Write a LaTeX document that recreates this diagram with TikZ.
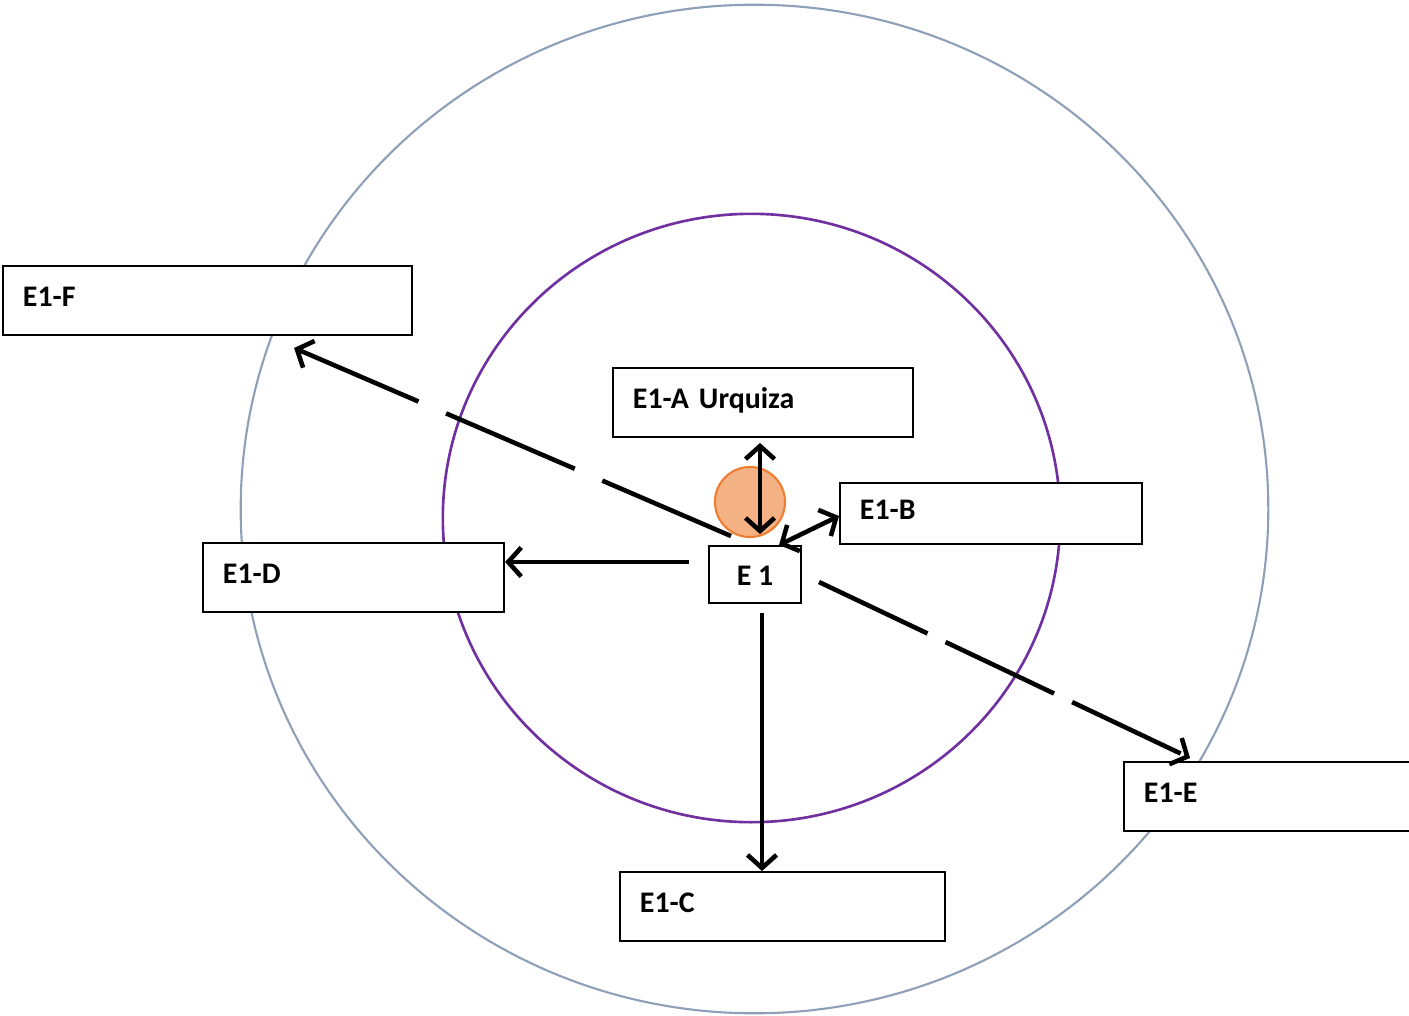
\documentclass[tikz,border=0pt]{standalone}
\usepackage{fontspec}
\setmainfont{Carlito}
\usepackage{tikz}
\usetikzlibrary{arrows.meta}

\definecolor{ringblue}{HTML}{8EA0B8}
\definecolor{ringpurple}{HTML}{7030A0}
\definecolor{dotfill}{HTML}{F4B183}
\definecolor{dotedge}{HTML}{ED7D31}

\tikzset{
  box/.style={draw, line width=0.55pt, fill=white, inner xsep=0.2cm, inner ysep=0pt,
    minimum height=0.69cm, align=left, anchor=north west,
    text height=0.22cm, text depth=0.105cm,
    font=\fontsize{8.5}{10}\selectfont\bfseries},
  hub/.style={draw, line width=0.55pt, fill=white, inner sep=0pt,
    minimum width=0.92cm, minimum height=0.57cm,
    text height=0.225cm, text depth=0pt,
    font=\fontsize{8.5}{10}\selectfont\bfseries},
  barb/.tip={Straight Barb[length=0.13cm,width=0.29cm]},
  link/.style={line width=1.3pt, -barb},
  twoway/.style={line width=1.3pt, barb-barb},
}

\begin{document}
\begin{tikzpicture}[x=0.01cm, y=-0.01cm]
\useasboundingbox (0,0) rectangle (1409,1015);

% rings
\draw[ringblue, line width=0.6pt] (754.5,509) ellipse [x radius=5.135cm, y radius=5.04cm];
\draw[ringpurple, line width=0.75pt] (751.5,518) ellipse [x radius=3.085cm, y radius=3.04cm];

% boxes
\node[box, text width=3.69cm] (f) at (2,265) {E1-F};
\node[box, text width=2.60cm] (a) at (612,367) {E1-A Urquiza};
\node[box, text width=2.62cm, minimum height=0.61cm] (b) at (839,482) {E1-B};
\node[box, text width=2.61cm] (d) at (202,542) {E1-D};
\node[box, text width=2.47cm] (e) at (1123,761) {E1-E};
\node[box, text width=2.85cm] (c) at (619,871) {E1-C};
\node[hub] (e1) at (755,574.5) {E 1};

\node[circle, draw=dotedge, fill=dotfill, line width=0.6pt, minimum size=0.7cm, inner sep=0pt] (dot) at (750,502) {};

% links from E 1
\draw[twoway, shorten <=0.11cm, shorten >=0.05cm]
  ([xshift=0.05cm]e1.north) -- ([xshift=0.05cm]e1.north |- a.south);
\draw[twoway] ([xshift=0.24cm]e1.north) -- ([yshift=-0.025cm]b.west);
\draw[link, shorten <=0.19cm]
  ([yshift=0.125cm]e1.west) -- ([yshift=0.125cm]e1.west -| d.east);
\draw[link, shorten <=0.09cm]
  ([xshift=0.07cm]e1.south) -- ([xshift=0.07cm]e1.south |- c.north);
\draw[link, dash pattern=on 1.4cm off 0.3cm]
  ([xshift=-0.24cm,yshift=0.09cm]e1.north) -- ([xshift=-1.19cm,yshift=-0.12cm]f.south east);
\draw[link, dash pattern=on 1.2cm off 0.2cm]
  ([xshift=0.17cm,yshift=-0.075cm]e1.east) -- ([xshift=0.67cm,yshift=0.03cm]e.north west);
\end{tikzpicture}
\end{document}
